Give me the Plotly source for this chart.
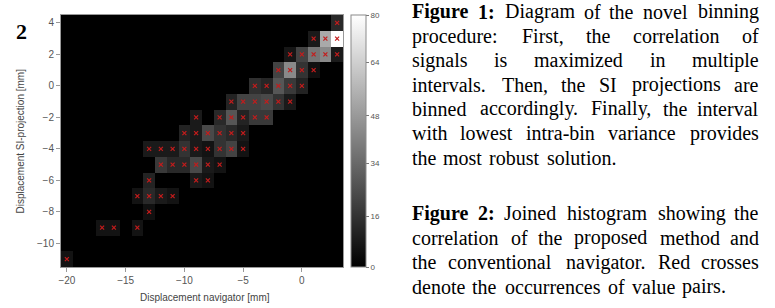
import numpy as np
import plotly.graph_objects as go

# ---------------- data ----------------
nav_x = [3,
         1, 2, 3,
         -1, 0, 1, 2, 3,
         -2, -1, 0, 1,
         -4, -3, -2, -1, 0,
         -6, -5, -4, -3, -2, -1,
         -9, -7, -6, -5, -4, -3,
         -10, -9, -8, -7, -6, -5,
         -13, -12, -11, -10, -9, -8, -7, -6, -5,
         -12, -11, -10, -9, -8, -7,
         -13, -9, -8,
         -14, -13, -12, -11,
         -13,
         -17, -16, -14,
         -20]
si_y = [4,
        3, 3, 3,
        2, 2, 2, 2, 2,
        1, 1, 1, 1,
        0, 0, 0, 0, 0,
        -1, -1, -1, -1, -1, -1,
        -2, -2, -2, -2, -2, -2,
        -3, -3, -3, -3, -3, -3,
        -4, -4, -4, -4, -4, -4, -4, -4, -4,
        -5, -5, -5, -5, -5, -5,
        -6, -6, -6,
        -7, -7, -7, -7,
        -8,
        -9, -9, -9,
        -11]
counts = [13,
          8, 53, 80,
          7, 21, 37, 43, 8,
          21, 43, 16, 5,
          15, 12, 27, 18, 11,
          11, 21, 21, 23, 16, 8,
          8, 13, 27, 11, 18, 18,
          11, 8, 23, 16, 13, 8,
          8, 8, 8, 16, 8, 6, 16, 21, 6,
          18, 13, 13, 23, 8, 6,
          11, 8, 6,
          6, 13, 8, 6,
          5,
          6, 6, 6,
          6]

x_bins = list(range(-20, 4))
y_bins = list(range(-11, 5))
x_ticks = [-20, -15, -10, -5, 0]
y_ticks = [4, 2, 0, -2, -4, -6, -8, -10]
cbar_tickvals = [0, 16, 33, 48, 65, 80]
cbar_ticktext = ["0", "16", "34", "48", "64", "80"]

caption1 = ["**Figure 1:** Diagram of the novel binning",
            "procedure: First, the correlation of",
            "signals is maximized in multiple",
            "intervals. Then, the SI projections are",
            "binned accordingly. Finally, the interval",
            "with lowest intra-bin variance provides",
            "the most robust solution."]
caption2 = ["**Figure 2:** Joined histogram showing the",
            "correlation of the proposed method and",
            "the conventional navigator. Red crosses",
            "denote the occurrences of value pairs."]

# ---------------- build matrix ----------------
Z = np.zeros((len(y_bins), len(x_bins)))
for xv, yv, c in zip(nav_x, si_y, counts):
    Z[y_bins.index(yv), x_bins.index(xv)] = c

W, H = 775, 308
L, R_edge, T, B = 61, 343.3, 15, 267
PW, PH = R_edge - L, B - T

def px2x(px):
    return (px - L) / PW

def px2y(py):
    return (B - py) / PH

fig = go.Figure()
fig.add_trace(go.Heatmap(
    x=x_bins, y=y_bins, z=Z, zmin=0, zmax=80,
    colorscale=[[0, "#000000"], [1, "#ffffff"]],
    colorbar=dict(
        x=px2x(351), xanchor="left", xpad=0, ypad=0,
        y=0.5, yanchor="middle", len=1, lenmode="fraction",
        thickness=15, outlinecolor="#8a8a8a", outlinewidth=1,
        tickvals=cbar_tickvals, ticktext=cbar_ticktext,
        ticks="outside", ticklen=3, tickcolor="#777",
        tickfont=dict(family="Liberation Sans", size=8, color="#555"),
    ),
    hoverinfo="skip",
))
fig.add_trace(go.Scatter(
    x=nav_x, y=si_y, mode="markers",
    marker=dict(symbol="x-thin", size=4, line=dict(color="#c41c1c", width=1.2)),
    hoverinfo="skip", showlegend=False,
))

axis_common = dict(
    showgrid=False, zeroline=False, showline=True, linecolor="#999",
    linewidth=1, mirror=True, ticks="outside", ticklen=4, tickcolor="#999",
    tickfont=dict(family="Liberation Sans", size=10, color="#555"),
)
fig.update_xaxes(range=[-20.5, 3.5], tickvals=x_ticks, **axis_common)
fig.update_yaxes(range=[-11.5, 4.5], tickvals=y_ticks, **axis_common)

annotations = []
annotations.append(dict(text="Displacement navigator [mm]", x=px2x(205.5), y=px2y(297),
                        xref="paper", yref="paper", showarrow=False,
                        xanchor="center", yanchor="middle",
                        font=dict(family="Liberation Sans", size=10, color="#444")))
annotations.append(dict(text="Displacement SI-projection [mm]", x=px2x(19.5), y=px2y(141),
                        xref="paper", yref="paper", showarrow=False, textangle=-90,
                        xanchor="center", yanchor="middle",
                        font=dict(family="Liberation Sans", size=10, color="#444")))
annotations.append(dict(text="<b>2</b>", x=px2x(21.5), y=px2y(39 - 0.3375 * 22),
                        xref="paper", yref="paper", showarrow=False,
                        xanchor="center", yanchor="middle", borderpad=0,
                        font=dict(family="Liberation Serif", size=22, color="#000")))

# ---- justified caption text (per word) ----
TR = dict(zip("abcdefghijklmnopqrstuvwxyz",
              [444, 500, 444, 500, 444, 333, 500, 500, 278, 278, 500, 278, 778,
               500, 500, 500, 500, 333, 389, 278, 500, 500, 722, 500, 500, 444]))
TR.update({"D": 722, "F": 556, "I": 333, "J": 389, "R": 667, "S": 556, "T": 611,
           ",": 250, ".": 250, ":": 278, "-": 333, "1": 500, "2": 500})
TB = {"F": 611, "i": 278, "g": 500, "u": 556, "r": 444, "e": 444, "1": 500, "2": 500, ":": 333}

def wid(word, bold):
    tab = TB if bold else TR
    return sum(tab.get(ch, 500) for ch in word) / 1000.0

HS = 20.9
X0, X1 = 411.7, 761.0
FS = 20

def parse(line):
    toks = []
    if line.startswith("**"):
        end = line.index("**", 2)
        for w in line[2:end].split():
            toks.append((w, True))
        line = line[end + 2:]
    for w in line.split():
        toks.append((w, False))
    return toks

def add_para(lines, center0, step):
    for k, line in enumerate(lines):
        justified = k < len(lines) - 1
        toks = parse(line)
        ws = [wid(w, b) * HS for w, b in toks]
        if justified and len(toks) > 1:
            gap = (X1 - X0 - sum(ws)) / (len(toks) - 1)
        else:
            gap = 0.25 * HS
        x = X0
        base = center0 + k * step + 0.224 * FS   # baseline from x-height centre
        for i, ((w, b), ww) in enumerate(zip(toks, ws)):
            if i == 0:
                anc, ax = "left", x
            elif justified and i == len(toks) - 1:
                anc, ax = "right", x + ww
            else:
                anc, ax = "center", x + ww / 2
            annotations.append(dict(
                text=f"<b>{w}</b>" if b else w, x=px2x(ax), y=px2y(base - 0.3375 * FS),
                xref="paper", yref="paper", showarrow=False, xanchor=anc, yanchor="middle",
                borderpad=0, font=dict(family="Liberation Serif", size=FS, color="#000")))
            x += ww + gap

add_para(caption1, 14.0, 24.3)
add_para(caption2, 215.5, 24.5)

fig.update_layout(
    width=W, height=H, autosize=False,
    margin=dict(l=L, r=W - R_edge, t=T, b=H - B),
    paper_bgcolor="white", plot_bgcolor="black",
    showlegend=False, annotations=annotations,
)
fig.write_html("out.html", config={"displayModeBar": False},
               post_script="document.body.style.margin='0';document.body.style.overflow='hidden';")
